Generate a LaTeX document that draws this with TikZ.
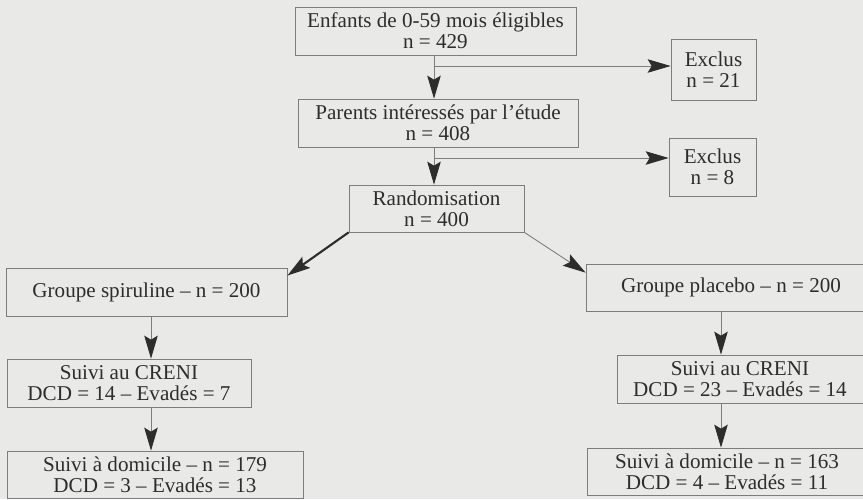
\documentclass[tikz,border=0pt]{standalone}
\usepackage{fontspec}
\setmainfont{Liberation Serif}
\usetikzlibrary{arrows.meta,positioning}
\definecolor{paper}{RGB}{233,233,231}
\definecolor{rule}{RGB}{125,125,125}
\definecolor{ink}{RGB}{45,45,45}

\begin{document}
\begin{tikzpicture}[
    box/.style={draw=rule, fill=paper, inner sep=0pt, minimum height=0.96cm, align=center, text=ink, font=\fontsize{12}{12}\selectfont},
    arr/.style={draw=rule, line width=0.5pt, -{Stealth[length=4.6mm, width=2.7mm, inset=0.8mm, color=ink]}}
  ]
    \path[use as bounding box, fill=paper] (0,0) rectangle (17.26,-9.98);
    \clip (0,0) rectangle (17.26,-9.98);

    \node[box, minimum width=5.62cm] (elig) at (8.71,-0.62) {Enfants de 0-59 mois éligibles\\n = 429};
    \node[box, minimum width=5.60cm] (parents) at (8.76,-2.46) {Parents intéressés par l’étude\\n = 408};
    \node[box, minimum width=3.50cm, minimum height=0.94cm] (rando) at (8.73,-4.17) {Randomisation\\n = 400};
    \node[box, minimum width=1.70cm, minimum height=1.22cm] (excl1) at (14.27,-1.39) {Exclus\\n = 21};
    \node[box, minimum width=1.74cm, minimum height=1.16cm] (excl2) at (14.25,-3.34) {Exclus\\n = 8};

    \node[box, minimum width=5.62cm] (spir) at (2.93,-5.84) {Groupe spiruline – n = 200};
    \node[box, minimum width=4.88cm] (crenL) at (2.58,-7.66) {Suivi au CRENI\\DCD = 14 – Evadés = 7};
    \node[box, minimum width=5.92cm, minimum height=0.94cm] (domL) at (3.10,-9.49) {Suivi à domicile – n = 179\\DCD = 3 – Evadés = 13};

    \node[box, minimum width=5.80cm, minimum height=0.94cm] (plac) at (14.62,-5.75) {Groupe placebo – n = 200};
    \node[box, minimum width=4.92cm] (crenR) at (14.80,-7.58) {Suivi au CRENI\\DCD = 23 – Evadés = 14};
    \node[box, minimum width=5.60cm, minimum height=0.94cm] (domR) at (14.54,-9.43) {Suivi à domicile – n = 163\\DCD = 4 – Evadés = 11};

    \coordinate (colM) at (8.68,0);
    \coordinate (colL) at (3.02,0);
    \coordinate (colR) at (14.42,0);
    \coordinate (split1) at (8.68,-1.32);
    \coordinate (split2) at (8.68,-3.16);

    \draw[arr] (elig.south -| colM) -- (parents.north -| colM);
    \draw[arr] (split1) -- (split1 -| excl1.west);
    \draw[arr] (parents.south -| colM) -- (rando.north -| colM);
    \draw[arr] (split2) -- (split2 -| excl2.west);
    \draw[arr, draw=ink, line width=1.2pt] (rando.south west) -- ([yshift=-0.16cm]spir.north east);
    \draw[arr] (rando.south east) -- ([yshift=-0.18cm]plac.north west);
    \draw[arr] (spir.south -| colL) -- (crenL.north -| colL);
    \draw[arr] (crenL.south -| colL) -- (domL.north -| colL);
    \draw[arr] (plac.south -| colR) -- (crenR.north -| colR);
    \draw[arr] (crenR.south -| colR) -- (domR.north -| colR);
  \end{tikzpicture}
\end{document}
